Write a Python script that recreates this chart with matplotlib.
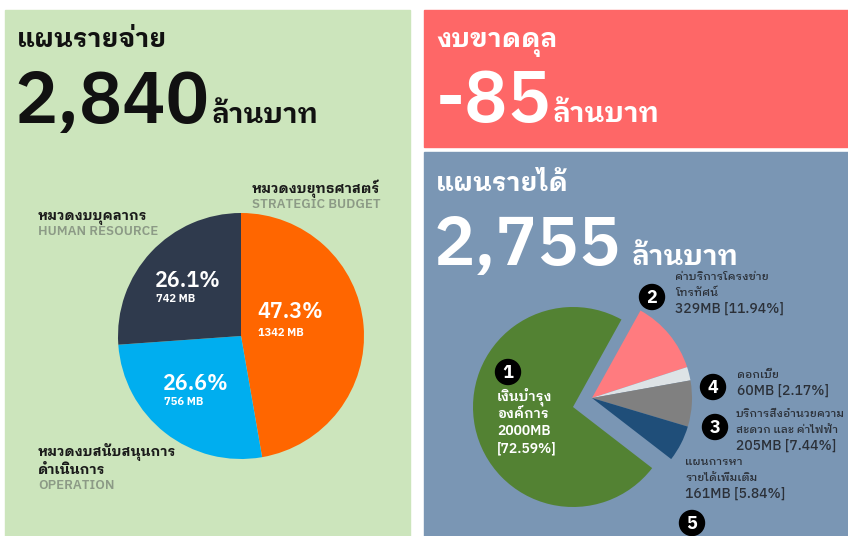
import matplotlib
matplotlib.use("Agg")
import matplotlib.pyplot as plt
from matplotlib.patches import Rectangle, Circle

plt.rcParams['font.family'] = ['IBM Plex Sans Thai Looped', 'Noto Sans Thai', 'DejaVu Sans']

# headline numbers
expense_total = "2,840"
balance_total = "-85"
income_total = "2,755"
unit = "ล้านบาท"

# expense plan (left pie)
exp_names = ["หมวดงบยุทธศาสตร์", "หมวดงบสนับสนุนการ\nดำเนินการ", "หมวดงบบุคลากร"]
exp_names_en = ["STRATEGIC BUDGET", "OPERATION", "HUMAN RESOURCE"]
exp_mb = [1342, 756, 742]
exp_pct = ["47.3%", "26.6%", "26.1%"]
exp_colors = ["#ff6600", "#00aeef", "#2f3a4d"]

# income plan (right pie), clockwise from the top
inc_no = [2, 4, 3, 5, 1]
inc_names = ["ค่าบริการโครงข่าย\nโทรทัศน์", "ดอกเบี้ย", "บริการสิ่งอำนวยความ\nสะดวก และ ค่าไฟฟ้า",
             "แผนการหา\nรายได้เพิ่มเติม", "เงินบำรุง\nองค์การ"]
inc_mb = [329, 60, 205, 161, 2000]
inc_pct = [11.94, 2.17, 7.44, 5.84, 72.59]
inc_colors = ["#ff7b7f", "#dde3e6", "#808080", "#1f4e79", "#538233"]

W, H = 848, 536
fig = plt.figure(figsize=(W / 100, H / 100), dpi=100)
fig.patch.set_facecolor("white")


def pixel_axes(rect=(0, 0, 1, 1)):
    a = fig.add_axes(rect)
    a.set_xlim(0, W)
    a.set_ylim(H, 0)
    a.axis("off")
    a.patch.set_alpha(0)
    return a


bg = pixel_axes()
bg.add_patch(Rectangle((5, 10), 405, 530, color="#cce5bc", zorder=0))
bg.add_patch(Rectangle((424, 10), 430, 137, color="#fe6767", zorder=0))
bg.add_patch(Rectangle((424, 152), 430, 390, color="#7a96b4", zorder=0))

dark = "#111111"
# headers
bg.text(17, 47, "แผนรายจ่าย", fontsize=19, fontweight="bold", color=dark)
bg.text(14, 123, expense_total, fontsize=52, fontweight="semibold", color=dark)
bg.text(211, 123, unit, fontsize=20, fontweight="bold", color=dark)

bg.text(436, 47, "งบขาดดุล", fontsize=19, fontweight="bold", color="white")
bg.text(436, 122, balance_total, fontsize=52, fontweight="semibold", color="white")
bg.text(552, 122, unit, fontsize=20, fontweight="bold", color="white")

bg.text(436, 191, "แผนรายได้", fontsize=19, fontweight="bold", color="white")
bg.text(434, 265, income_total, fontsize=50, fontweight="semibold", color="white")
bg.text(631, 265, unit, fontsize=20, fontweight="bold", color="white")

# left pie
cx, cy, r = 241, 336, 123
axl = fig.add_axes([(cx - r) / W, (H - cy - r) / H, 2 * r / W, 2 * r / H])
axl.pie(exp_mb, colors=exp_colors, startangle=90, counterclock=False,
        wedgeprops=dict(linewidth=0))
axl.set_xlim(-1, 1)
axl.set_ylim(-1, 1)
axl.axis("off")

# right pie
gx, gy, rr = 573, 407, 100
pad = 1.3
axr = fig.add_axes([(gx - rr * pad) / W, (H - gy - rr * pad) / H, 2 * rr * pad / W, 2 * rr * pad / H])
wedges, _ = axr.pie(inc_mb, colors=inc_colors, startangle=61, counterclock=False,
                    wedgeprops=dict(linewidth=0))
for w in wedges[:-1]:
    w.set_center((0.19, 0.09))
axr.set_xlim(-pad, pad)
axr.set_ylim(-pad, pad)
axr.axis("off")

# labels on top of the pies
top = pixel_axes()

pct_pos = [(257, 318), (163, 390), (155, 287)]
mb_gap = [18, 15, 15]
for (x, y), p, mb, g in zip(pct_pos, exp_pct, exp_mb, mb_gap):
    top.text(x, y, p, fontsize=15.5, fontweight="semibold", color="white")
    top.text(x + 1, y + g, f"{mb} MB", fontsize=8, fontweight="bold", color="white")

name_pos = [(252, 193), (38, 456), (38, 220)]
for i, ((x, y), n, en) in enumerate(zip(name_pos, exp_names, exp_names_en)):
    lines = n.split("\n")
    for k, ln in enumerate(lines):
        top.text(x, y + k * 18, ln, fontsize=10, fontweight="bold", color="#1a1a1a")
    top.text(x, y + (len(lines) - 1) * 18 + 15, en, fontsize=9.5, fontweight="semibold",
             color="#8c9a86")

badge_pos = [(652, 297), (713, 387), (715, 427), (692, 523), (508, 372)]
text_pos = [(675, 280), (737, 378), (736, 417), (685, 465), (497, 400)]
label_col = "#2b3038"
for i in range(len(inc_no)):
    bx, by = badge_pos[i]
    top.add_patch(Circle((bx, by), 12.5, color="black", zorder=3))
    top.text(bx, by + 1, str(inc_no[i]), fontsize=13, fontweight="bold", color="white",
             ha="center", va="center", zorder=4)
    tx, ty = text_pos[i]
    lines = inc_names[i].split("\n")
    amount = f"{inc_mb[i]}MB [{inc_pct[i]:.2f}%]"
    if inc_no[i] == 1:
        for k, ln in enumerate(lines + [f"{inc_mb[i]}MB", f"[{inc_pct[i]:.2f}%]"]):
            top.text(tx, ty + k * 17.5, ln, fontsize=10, fontweight="semibold", color="white")
    else:
        step = 16
        for k, ln in enumerate(lines):
            top.text(tx, ty + k * step, ln, fontsize=8.2, fontweight="medium", color=label_col)
        top.text(tx, ty + len(lines) * step + 1, amount, fontsize=10, fontweight="medium",
                 color=label_col)

fig.savefig("out.png", dpi=100)
